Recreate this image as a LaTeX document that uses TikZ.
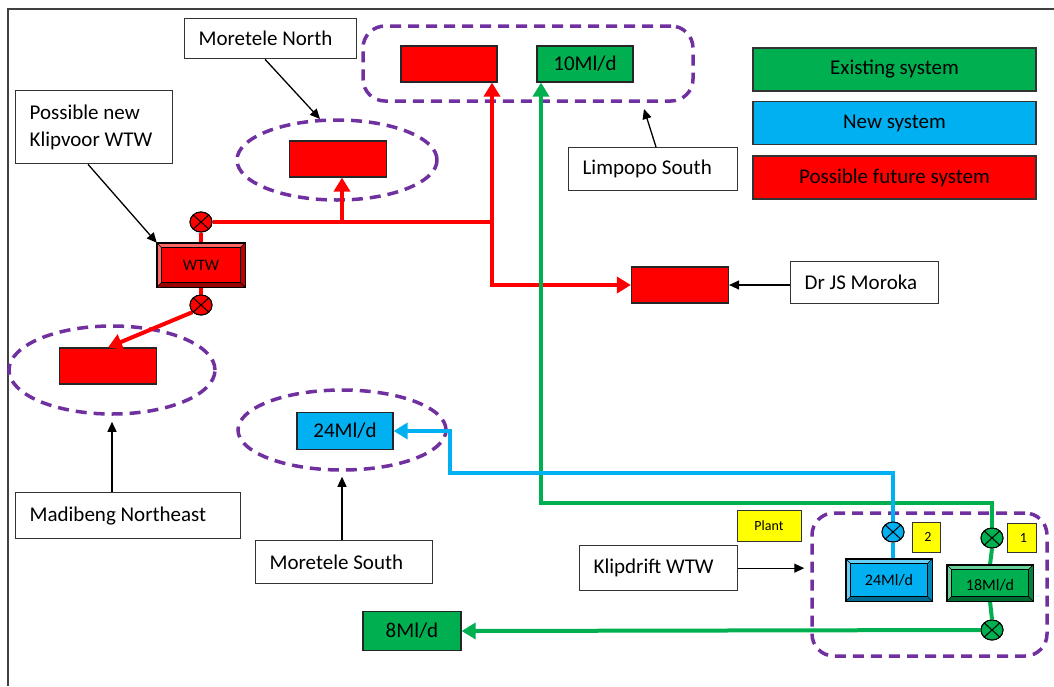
\documentclass[tikz,border=0pt]{standalone}
\usepackage{fontspec}
\setmainfont{Carlito}
\usetikzlibrary{arrows.meta,calc,shapes.geometric}
\definecolor{fred}{HTML}{FF0000}
\definecolor{fgreen}{HTML}{00B050}
\definecolor{fblue}{HTML}{00B0F0}
\definecolor{fpurple}{HTML}{7030A0}
\definecolor{fyellow}{HTML}{FFFF00}
\newcommand\nsp{\spaceskip=0pt\relax\xspaceskip=0pt\relax}
\newcommand\mybev[2]{%
 \fill[#2!60!white] (#1.north west) -- (#1.north east) -- ([shift={(-5pt,-5pt)}]#1.north east) -- ([shift={(5pt,-5pt)}]#1.north west) -- cycle;
 \fill[#2!60!white] (#1.north west) -- ([shift={(5pt,-5pt)}]#1.north west) -- ([shift={(5pt,5pt)}]#1.south west) -- (#1.south west) -- cycle;
 \fill[#2!60!black] (#1.south west) -- ([shift={(5pt,5pt)}]#1.south west) -- ([shift={(-5pt,5pt)}]#1.south east) -- (#1.south east) -- cycle;
 \fill[#2!75!black] (#1.south east) -- ([shift={(-5pt,5pt)}]#1.south east) -- ([shift={(-5pt,-5pt)}]#1.north east) -- (#1.north east) -- cycle;
 \draw[line width=1pt] ([shift={(5pt,-5pt)}]#1.north west) rectangle ([shift={(-5pt,5pt)}]#1.south east);
 \draw[line width=0.5pt] (#1.north west) -- ([shift={(5pt,-5pt)}]#1.north west)
   (#1.north east) -- ([shift={(-5pt,-5pt)}]#1.north east)
   (#1.south west) -- ([shift={(5pt,5pt)}]#1.south west)
   (#1.south east) -- ([shift={(-5pt,5pt)}]#1.south east);
 \draw[line width=1.4pt] (#1.north west) rectangle (#1.south east);
}
\begin{document}
\begin{tikzpicture}[x=1pt,y=-1pt,
 font=\fontsize{21}{27}\selectfont,
 lab/.style={draw=black!80, line width=1.3pt, fill=white, align=left, inner xsep=14pt, inner ysep=0pt, anchor=north west},
 sbox/.style={draw=black!85, line width=1.2pt, fill=#1, minimum width=96pt, minimum height=36pt, inner sep=0pt},
 leg/.style={draw=black!80, line width=1.2pt, fill=#1, minimum width=283pt, minimum height=43pt, inner sep=0pt, font=\fontsize{21}{24}\selectfont},
 grp/.style={draw=fpurple, line width=3.5pt, dash pattern=on 11pt off 7pt, inner sep=0pt},
 flow/.style={line width=4pt, draw=#1},
 flowa/.style={line width=4pt, draw=#1, -{Triangle[length=14pt,width=16pt]}},
 ann/.style={line width=1.3pt, draw=black, -{Triangle[length=10pt,width=9pt]}},
 valve/.style={ellipse, draw=black, line width=1pt, fill=#1, minimum width=22pt, minimum height=20pt, inner sep=0pt,
   path picture={\draw[line width=1pt] (path picture bounding box.north west)--(path picture bounding box.south east) (path picture bounding box.north east)--(path picture bounding box.south west);}},
 ylw/.style={draw=black!80, line width=1pt, fill=fyellow, inner sep=0pt, font=\fontsize{14}{16}\selectfont},
 bev/.style={fill=#1, inner sep=0pt, font=\fontsize{15}{18}\selectfont}
]
\useasboundingbox (0,0) rectangle (1054,686);
% frame
\draw[line width=1.5pt, black!75] (8,686) -- (8,9) -- (1054,9);

% groups
\node[grp, rounded corners=22pt, minimum width=330pt, minimum height=75pt] (lsg) at (528,63.5) {};
\node[grp, rounded corners=22pt, minimum width=235pt, minimum height=143pt] (kdg) at (929.5,584.5) {};
\node[grp, ellipse, minimum width=200pt, minimum height=80pt] (mng) at (337,160) {};
\node[grp, ellipse, minimum width=206pt, minimum height=88pt] (madg) at (112,370) {};
\node[grp, ellipse, minimum width=208pt, minimum height=80pt] (msg) at (342,430) {};

% boxes
\node[sbox=fred] (rt) at (449,64) {};
\node[sbox=fgreen] (g10) at (585,64) {10Ml/d};
\node[sbox=fred, minimum width=97pt] (mnb) at (338,159) {};
\node[sbox=fred, minimum width=97pt] (drb) at (680,285) {};
\node[sbox=fred, minimum width=97pt] (madb) at (108,366) {};
\node[sbox=fblue, minimum height=37pt] (b24) at (345,431) {24Ml/d};
\node[sbox=fgreen, minimum width=98pt, minimum height=39pt] (g8) at (412,631) {8Ml/d};

\node[bev=fred, minimum width=88pt, minimum height=44pt] (wtw) at (201,265) {};
\node[bev=fblue, minimum width=86pt, minimum height=42pt] (bl) at (889,580) {};
\node[bev=fgreen, minimum width=86pt, minimum height=36pt] (g18) at (990,583) {};

% valves
\node[valve=fred] (v1) at (201,222) {};
\node[valve=fred] (v2) at (201,305) {};
\node[valve=fblue] (b1) at (893,532) {};
\node[valve=fgreen] (g1) at (992,538) {};
\node[valve=fgreen] (g2) at (992,630) {};

% junctions
\coordinate (jr) at (492,222);
\coordinate (jm) at (342,222);
\coordinate (gc) at (541,503);
\coordinate (bc) at (450,473);

% red flows
\draw[flow=fred] (wtw.north) -- (v1.south);
\draw[flow=fred] (wtw.south) -- (v2.north);
\draw[flow=fred] (v1.east) -- (jr);
\draw[flowa=fred] (jm) -- (jm |- mnb.south);
\draw[flowa=fred] (jr) -- (jr |- rt.south);
\draw[flowa=fred] (jr) |- (drb.west);
\draw[flowa=fred] (v2.220) -- (madb.north);
% green flows
\draw[flowa=fgreen] (g1.north) |- (gc) -- (gc |- g10.south);
\draw[flow=fgreen] (g1.south) -- (g18.north);
\draw[flow=fgreen] (g18.south) -- (g2.north);
\draw[flowa=fgreen] (g2.west) -- (g8.east);
% blue flows
\draw[flowa=fblue] (b1.north) |- (bc) |- (b24.east);
\draw[flow=fblue] (b1.south) -- (b1.south |- bl.north);

% redraw valves and bevelled boxes on top of lines
\node[valve=fred] at (v1) {};
\node[valve=fred] at (v2) {};
\node[valve=fblue] at (b1) {};
\node[valve=fgreen] at (g1) {};
\node[valve=fgreen] at (g2) {};
\mybev{wtw}{fred}
\mybev{bl}{fblue}
\mybev{g18}{fgreen}
\node[bev=fred, fill=none, font=\fontsize{16}{18}\selectfont] at (wtw) {WTW};
\node[bev=fblue, fill=none, font=\fontsize{16}{18}\selectfont] at (bl) {24Ml/d};
\node[bev=fgreen, fill=none, font=\fontsize{16}{18}\selectfont] at ([yshift=-2pt]g18) {18Ml/d};

% yellow tags
\node[ylw, minimum width=28pt, minimum height=30pt] (y2) at (926,537) {\hspace*{4pt}2};
\node[ylw, minimum width=29pt, minimum height=29pt] (y1) at (1021.5,537.5) {\hspace*{4pt}1};
\node[ylw, minimum width=64pt, minimum height=31pt] (pl) at (769,525.5) {Plant};

% legend
\node[leg=fgreen] (le) at (894.5,69.5) {Existing system};
\node[leg=fblue] (ln) at (894.5,123) {New system};
\node[leg=fred] (lp) at (894.5,177.5) {Possible future system};

% labels
\node[lab, text width=144pt, minimum height=40pt] (mnl) at (184,18) {\nsp Moretele North};
\node[lab, text width=129pt, minimum height=73pt] (kl) at (15,90) {\nsp Possible new\\\nsp Klipvoor WTW};
\node[lab, text width=141pt, minimum height=43pt] (ls) at (568,147) {\nsp Limpopo South};
\node[lab, text width=120pt, minimum height=42pt] (dr) at (790,261) {\nsp Dr JS Moroka};
\node[lab, text width=197pt, minimum height=46pt] (mad) at (15,492) {\nsp Madibeng Northeast};
\node[lab, text width=149pt, minimum height=43pt] (ms) at (255,540) {\nsp Moretele South};
\node[lab, text width=130pt, minimum height=45pt] (kd) at (579,545) {\nsp Klipdrift WTW};

% annotation arrows
\coordinate (mnt) at (320,119);
\coordinate (lst) at (644,109);
\draw[ann] ($(mnl.south west)+(81,0)$) -- (mnt);
\draw[ann] ($(kl.south west)+(73,0)$) -- (wtw.north west);
\draw[ann] ($(ls.north west)+(88,0)$) -- (lst);
\draw[ann] (dr.west |- drb.east) -- (drb.east);
\draw[ann] (madg.south |- mad.north) -- ($(madg.south)+(0,6)$);
\draw[ann] (msg.south |- ms.north) -- ($(msg.south)+(0,5)$);
\draw[ann] (kd.east) -- ($(kd.east -| kdg.west)+(-6,0)$);
\end{tikzpicture}
\end{document}
